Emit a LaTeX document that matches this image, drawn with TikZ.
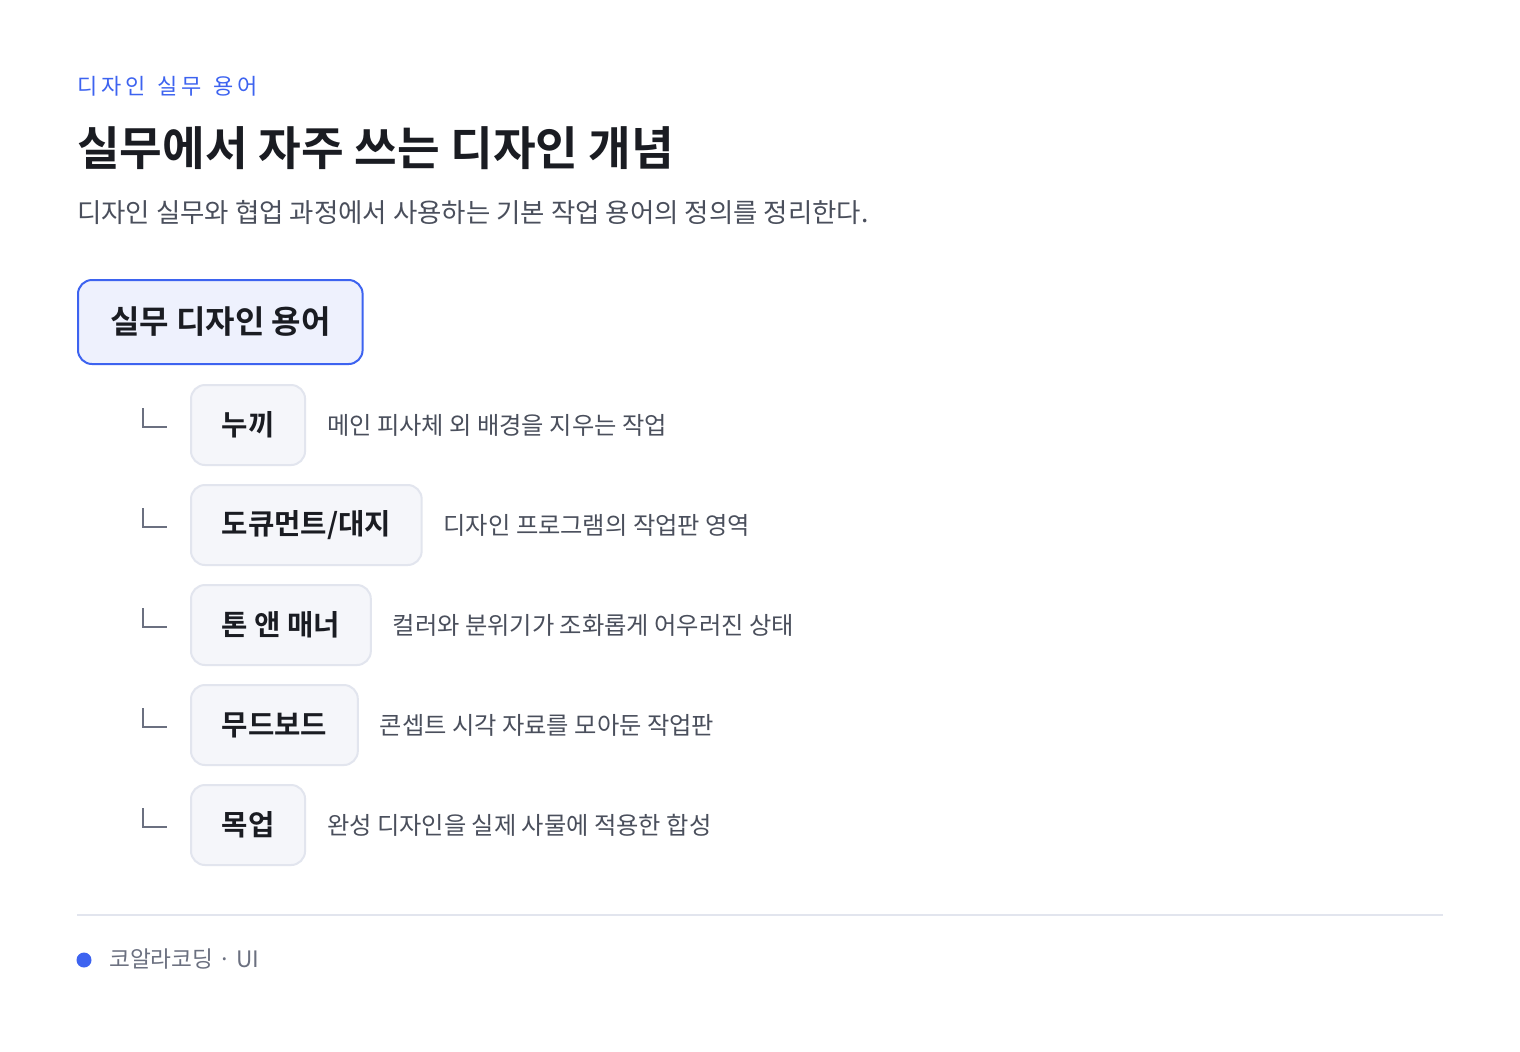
\documentclass[tikz,border=0pt]{standalone}
\usepackage{fontspec}
\setmainfont{Noto Sans CJK KR}[BoldFont={Noto Sans CJK KR Bold}]
\newfontfamily\eyebrowfont{Noto Sans CJK KR}[LetterSpace=17, WordSpace=1.4]
\usetikzlibrary{positioning, calc}
\definecolor{koalablue}{RGB}{61, 99, 240}
\definecolor{koalaink}{RGB}{26, 28, 34}
\definecolor{koalagray}{RGB}{74, 79, 92}
\definecolor{koalamuted}{RGB}{107, 112, 128}
\definecolor{koalaline}{RGB}{226, 229, 238}
\definecolor{koalapale}{RGB}{238, 241, 253}
\definecolor{koalachip}{RGB}{245, 246, 250}

\begin{document}
\begin{tikzpicture}[x=0.75pt, y=-0.75pt,
    term/.style={draw=koalaline, line width=1.5pt, fill=koalachip, rounded corners=10.5pt,
      minimum height=60pt, inner xsep=23pt, anchor=west, text=koalaink,
      font=\fontsize{21.5}{26}\selectfont\bfseries},
    desc/.style={inner sep=0pt, text=koalagray, font=\fontsize{18.2}{22}\selectfont},
    elbow/.style={draw=koalamuted, line width=1.1pt}]
  \useasboundingbox[fill=white] (0,0) rectangle (1520,1051);

  % header
  \node[anchor=base west, inner sep=0pt, text=koalablue,
    font=\eyebrowfont\fontsize{16.5}{20}\selectfont] (eyebrow) at (77,94) {디자인 실무 용어};
  \node[anchor=base west, inner sep=0pt, text=koalaink,
    font=\fontsize{34.8}{40}\selectfont\bfseries] (title) at (77,165) {실무에서 자주 쓰는 디자인 개념};
  \node[anchor=base west, inner sep=0pt, text=koalagray,
    font=\fontsize{19.85}{24}\selectfont] (subtitle) at (77,222) {디자인 실무와 협업 과정에서 사용하는 기본 작업 용어의 정의를 정리한다.};

  % root term
  \node[draw=koalablue, line width=1.5pt, fill=koalapale, rounded corners=10.5pt,
    minimum height=63pt, inner xsep=24pt, anchor=west, text=koalaink,
    font=\fontsize{24}{28}\selectfont\bfseries] (root) at (77,322) {실무 디자인 용어};

  % terms
  \node[term] (nukki) at (190,425) {누끼};
  \node[term] (docu) at (190,525) {도큐먼트/대지};
  \node[term] (tone) at (190,625) {톤 앤 매너};
  \node[term] (mood) at (190,725) {무드보드};
  \node[term] (mockup) at (190,825) {목업};

  \node[desc, right=15.5pt of nukki] (nukkidesc) {메인 피사체 외 배경을 지우는 작업};
  \node[desc, right=15.5pt of docu] (docudesc) {디자인 프로그램의 작업판 영역};
  \node[desc, right=15.5pt of tone] (tonedesc) {컬러와 분위기가 조화롭게 어우러진 상태};
  \node[desc, right=15.5pt of mood] (mooddesc) {콘셉트 시각 자료를 모아둔 작업판};
  \node[desc, right=15.5pt of mockup] (mockupdesc) {완성 디자인을 실제 사물에 적용한 합성};

  \foreach \n in {nukki, docu, tone, mood, mockup} {
    \draw[elbow] ($(\n.west)+(-47,-17)$) |- ($(\n.west)+(-23,2)$);
  }

  % footer
  \draw[koalaline, line width=1.5pt] (77,915) -- (1443,915);
  \fill[koalablue] (84,960) circle (7.5);
  \node[anchor=base west, inner sep=0pt, text=koalamuted,
    font=\fontsize{17}{21}\selectfont] (credit) at (109,967) {코알라코딩 · UI};
\end{tikzpicture}
\end{document}
